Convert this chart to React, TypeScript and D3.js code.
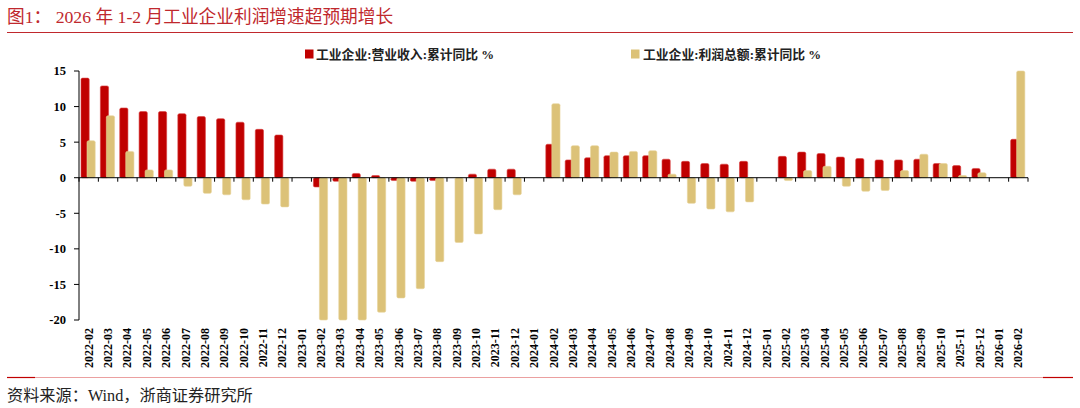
import * as d3 from "d3";
import { ReactElement } from "react";

// months on the x axis (Jan data is merged into Feb, so Jan slots stay empty)
const months: string[] = [
  "2022-02", "2022-03", "2022-04", "2022-05", "2022-06", "2022-07", "2022-08", "2022-09", "2022-10", "2022-11", "2022-12",
  "2023-01", "2023-02", "2023-03", "2023-04", "2023-05", "2023-06", "2023-07", "2023-08", "2023-09", "2023-10", "2023-11", "2023-12",
  "2024-01", "2024-02", "2024-03", "2024-04", "2024-05", "2024-06", "2024-07", "2024-08", "2024-09", "2024-10", "2024-11", "2024-12",
  "2025-01", "2025-02", "2025-03", "2025-04", "2025-05", "2025-06", "2025-07", "2025-08", "2025-09", "2025-10", "2025-11", "2025-12",
  "2026-01", "2026-02",
];

// 工业企业:营业收入:累计同比 %
const revenue: (number | null)[] = [
  14.0, 12.9, 9.8, 9.3, 9.3, 9.0, 8.6, 8.3, 7.8, 6.8, 6.0,
  null, -1.3, -0.5, 0.6, 0.3, -0.4, -0.5, -0.4, 0.0, 0.5, 1.2, 1.2,
  null, 4.7, 2.5, 2.8, 3.1, 3.1, 3.1, 2.6, 2.3, 2.0, 1.9, 2.3,
  null, 3.0, 3.6, 3.4, 2.9, 2.7, 2.5, 2.5, 2.6, 2.0, 1.7, 1.3,
  null, 5.4,
];

// 工业企业:利润总额:累计同比 %
const profit: (number | null)[] = [
  5.2, 8.7, 3.7, 1.1, 1.1, -1.2, -2.2, -2.4, -3.1, -3.7, -4.1,
  null, -22.9, -21.4, -20.6, -18.9, -16.9, -15.6, -11.8, -9.1, -7.9, -4.5, -2.4,
  null, 10.4, 4.5, 4.5, 3.6, 3.7, 3.8, 0.5, -3.6, -4.4, -4.8, -3.4,
  null, -0.4, 1.0, 1.6, -1.2, -1.9, -1.8, 1.0, 3.3, 2.0, 0.3, 0.7,
  null, 15.2,
];

const yTicks: number[] = [15, 10, 5, 0, -5, -10, -15, -20];

const seriesNames = ["工业企业:营业收入:累计同比 %", "工业企业:利润总额:累计同比 %"];
const title = "图1：  2026 年 1-2 月工业企业利润增速超预期增长";
const source = "资料来源：Wind，浙商证券研究所";

const RED = "#C00000";
const TAN = "#DCC278";
const TITLE_RED = "#C0282D";

const W = 1080;
const H = 408;
const left = 79;
const right = 1028;
const top = 71;
const bottom = 320;

const serif = "'Liberation Serif', 'Times New Roman', 'Noto Sans CJK SC', serif";
const cjk = "'Liberation Serif', 'Noto Sans CJK SC', serif";

const App = (): ReactElement => {
  const x = d3.scaleBand<string>().domain(months).range([left, right]).padding(0);
  const y = d3.scaleLinear().domain([-20, 15]).range([bottom, top]).clamp(true);
  const bw = x.bandwidth();
  const y0 = y(0);

  const bar = (v: number | null, i: number, off: number, fill: string, stroke: string) => {
    if (v === null || v === 0) return null;
    const bx = x(months[i])! + off;
    const yv = y(v);
    return (
      <rect
        key={fill + i}
        x={bx}
        y={Math.min(yv, y0)}
        width={8.2}
        height={Math.abs(yv - y0)}
        rx={1.5}
        fill={fill}
        stroke={stroke}
        strokeWidth={0.6}
      />
    );
  };

  return (
    <svg width={W} height={H} style={{ position: "absolute", left: 0, top: 0, background: "#fff" }}>
      {/* title */}
      <text x={7} y={23} fontFamily={cjk} fontSize={17.7} fill={TITLE_RED}>
        {title}
      </text>
      <line x1={7} x2={1073} y1={32.5} y2={32.5} stroke={TITLE_RED} strokeWidth={1.2} />

      {/* legend */}
      <rect x={305} y={49.5} width={8.5} height={9} fill={RED} />
      <text x={316} y={58.5} fontFamily={cjk} fontSize={12.8} fontWeight="bold" fill="#222">
        {seriesNames[0]}
      </text>
      <rect x={631} y={49.5} width={8.5} height={9} fill={TAN} />
      <text x={643} y={58.5} fontFamily={cjk} fontSize={12.8} fontWeight="bold" fill="#222">
        {seriesNames[1]}
      </text>

      {/* bars */}
      {revenue.map((v, i) => bar(v, i, 2, RED, "#D84040"))}
      {profit.map((v, i) => bar(v, i, 8, TAN, "#E8D49A"))}

      {/* y axis */}
      <line x1={left} x2={left} y1={top} y2={bottom} stroke="#000" strokeWidth={1} />
      {yTicks.map((t) => (
        <g key={t}>
          <line x1={left - 5} x2={left} y1={y(t)} y2={y(t)} stroke="#000" strokeWidth={1} />
          <text
            x={66}
            y={y(t)}
            dy="0.35em"
            textAnchor="end"
            fontFamily={serif}
            fontSize={12.5}
            fontWeight="bold"
            fill="#000"
          >
            {t}
          </text>
        </g>
      ))}

      {/* zero axis with band ticks */}
      <line x1={left} x2={right} y1={y0} y2={y0} stroke="#000" strokeWidth={1} />
      {months.map((m) => (
        <line key={"t" + m} x1={x(m)!} x2={x(m)!} y1={y0} y2={y0 + 4} stroke="#000" strokeWidth={1} />
      ))}
      <line x1={right} x2={right} y1={y0} y2={y0 + 4} stroke="#000" strokeWidth={1} />

      {/* x labels */}
      {months.map((m) => {
        const cx = x(m)! + bw / 2;
        return (
          <text
            key={"l" + m}
            transform={`translate(${cx + 4},328) rotate(-90)`}
            textAnchor="end"
            fontFamily={serif}
            fontSize={12}
            fontWeight="bold"
            fill="#000"
          >
            {m}
          </text>
        );
      })}

      {/* bottom rule */}
      <line x1={7} x2={35} y1={377.5} y2={377.5} stroke={RED} strokeWidth={1.2} />
      <line x1={35} x2={1043} y1={377.5} y2={377.5} stroke="#EBA0A0" strokeWidth={1.2} />
      <line x1={1043} x2={1073} y1={377.5} y2={377.5} stroke={RED} strokeWidth={1.2} />

      {/* source */}
      <text x={7} y={401} fontFamily={cjk} fontSize={16.2} fill="#222">
        {source}
      </text>
    </svg>
  );
};

export default App;
